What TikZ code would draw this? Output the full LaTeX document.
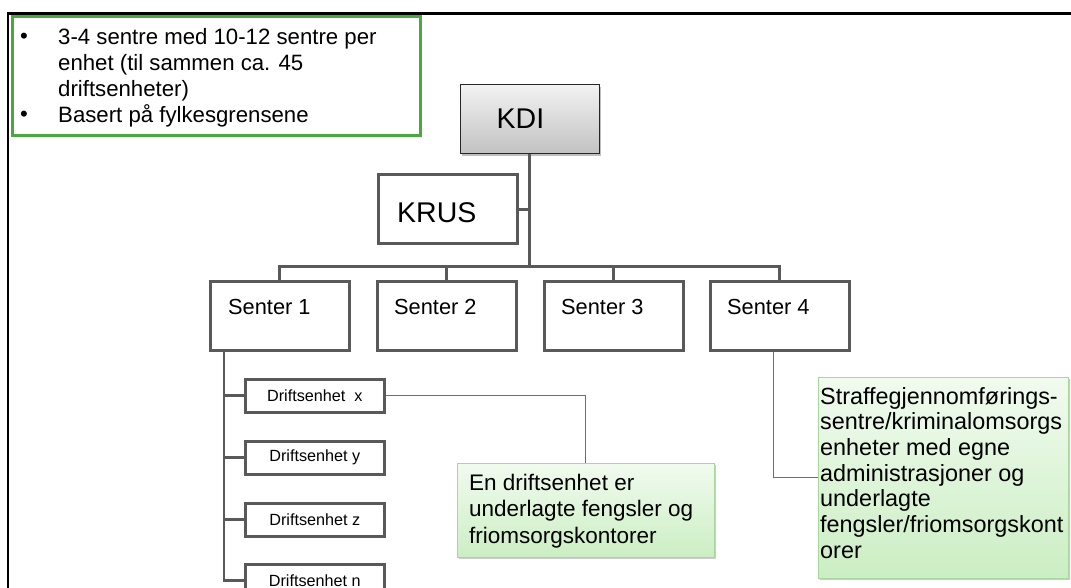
\documentclass[tikz,border=0pt]{standalone}
\usepackage{fontspec}
\setmainfont{Liberation Sans}
\usetikzlibrary{shadows,calc}
\definecolor{treegray}{HTML}{595959}
\definecolor{linkgray}{HTML}{6E6E6E}
\definecolor{framegreen}{HTML}{4BA83E}
\definecolor{notetop}{HTML}{F1FBEF}
\definecolor{notebot}{HTML}{CBEEC3}
\definecolor{noteedge}{HTML}{A5D89A}
\newcommand\fsinfo{\fontsize{22.2}{25}\selectfont}
\newcommand\fsbig{\fontsize{28.5}{32}\selectfont}
\newcommand\fssenter{\fontsize{21.8}{25}\selectfont}
\newcommand\fsdrift{\fontsize{16.2}{18}\selectfont}
\newcommand\fsnote{\fontsize{22.5}{26}\selectfont}
\newcommand\fsnotebig{\fontsize{23.4}{26}\selectfont}
\begin{document}
\begin{tikzpicture}[x=1pt,y=-1pt,
  box/.style={draw=treegray,line width=2.6pt,fill=white,minimum width=139pt,minimum height=69pt,inner sep=0pt,anchor=north west},
  dbox/.style={draw=treegray,line width=2.6pt,fill=white,minimum width=139pt,minimum height=33pt,inner sep=0pt,anchor=north west,font=\fsdrift},
  topbox/.style={draw=black!85,line width=1.5pt,minimum width=139pt,minimum height=69pt,inner sep=0pt,anchor=north west,
    top color=black!5,bottom color=black!24,
    drop shadow={shadow xshift=2pt,shadow yshift=-2pt,opacity=0.25,fill=black}},
  note/.style={draw=noteedge,line width=0.8pt,inner sep=0pt,anchor=north west,
    top color=notetop,bottom color=notebot,
    drop shadow={shadow xshift=1.5pt,shadow yshift=-2pt,opacity=0.2,fill=black}},
  tree/.style={draw=treegray,line width=2.8pt},
  link/.style={draw=linkgray,line width=1pt},
  lbl/.style={inner sep=0pt,anchor=base west},
]
\useasboundingbox (0,0) rectangle (1071,588);
\fill[white] (0,0) rectangle (1071,588);

% outer frame
\coordinate (fbl) at (8,588);
\coordinate (ftl) at (8,13.5);
\coordinate (ftr) at (1071,13.5);
\draw[line width=2.2pt,black] (fbl) -- (ftl) -- (ftr);

% info box
\node[draw=framegreen,line width=3pt,fill=white,minimum width=408pt,minimum height=119pt,inner sep=0pt,anchor=north west] (info) at (10.5,15.5) {};
\node[lbl,font=\fsinfo] (b1) at (20,44) {•};
\node[lbl,font=\fsinfo] (i1) at (58,45) {3-4 sentre med 10-12 sentre per};
\node[lbl,font=\fsinfo] (i2) at (58,70.7) {enhet (til sammen ca. 45};
\node[lbl,font=\fsinfo] (i3) at (58,96.5) {driftsenheter)};
\node[lbl,font=\fsinfo] (b2) at (20,121.5) {•};
\node[lbl,font=\fsinfo] (i4) at (58,122.5) {Basert på fylkesgrensene};

% KDI and KRUS
\node[topbox] (kdi) at (459.5,84) {};
\node[lbl,font=\fsbig] (kdit) at ($(kdi.north west)+(37,45)$) {KDI};
\node[box] (krus) at (377,173.5) {};
\node[lbl,font=\fsbig] (krust) at ($(krus.north west)+(20,49.5)$) {KRUS};

% centres
\node[box] (s1) at (209,280) {};
\node[box] (s2) at (376,280) {};
\node[box] (s3) at (543,280) {};
\node[box] (s4) at (709,280) {};
\node[lbl,font=\fssenter] (s1t) at ($(s1.north west)+(19,34)$) {Senter 1};
\node[lbl,font=\fssenter] (s2t) at ($(s2.north west)+(18,34)$) {Senter 2};
\node[lbl,font=\fssenter] (s3t) at ($(s3.north west)+(18,34)$) {Senter 3};
\node[lbl,font=\fssenter] (s4t) at ($(s4.north west)+(18,34)$) {Senter 4};

% tree connectors
\coordinate (bar) at ($(kdi.south)+(0,112)$);
\draw[tree] (kdi.south) -- (bar);
\draw[tree] (krus.east) -- (krus.east -| kdi.south);
\draw[tree] (s1.north) |- (bar) -| (s4.north);
\draw[tree] (s2.north) -- (s2.north |- bar);
\draw[tree] (s3.north) -- (s3.north |- bar);

% operating units
\node[dbox] (dx) at (244,378) {Driftsenhet\ \ x};
\node[dbox] (dy) at (244,440) {Driftsenhet y};
\node[dbox] (dz) at (244,502) {Driftsenhet z};
\node[dbox] (dn) at (244,563) {Driftsenhet n};
\coordinate (trunk) at ($(s1.south west)+(15,0)$);
\draw[tree] (trunk) |- (dn.west);
\draw[tree] (trunk |- dx.west) -- (dx.west);
\draw[tree] (trunk |- dy.west) -- (dy.west);
\draw[tree] (trunk |- dz.west) -- (dz.west);

% notes
\node[note,minimum width=257pt,minimum height=94pt] (g1) at (457,463) {};
\node[lbl,font=\fsnote] (g1a) at (469,490) {En driftsenhet er};
\node[lbl,font=\fsnote] (g1b) at (469,516.5) {underlagte fengsler og};
\node[lbl,font=\fsnote] (g1c) at (469,543) {friomsorgskontorer};

\node[note,minimum width=250pt,minimum height=201pt] (g2) at (818,377) {};
\node[lbl,font=\fsnotebig] (g2a) at (820,404) {Straffegjennomførings-};
\node[lbl,font=\fsnotebig] (g2b) at (820,429.7) {sentre/kriminalomsorgs};
\node[lbl,font=\fsnotebig] (g2c) at (820,455.4) {enheter med egne};
\node[lbl,font=\fsnotebig] (g2d) at (820,481.1) {administrasjoner og};
\node[lbl,font=\fsnotebig] (g2e) at (820,506.8) {underlagte};
\node[lbl,font=\fsnotebig] (g2f) at (820,532.5) {fengsler/friomsorgskont};
\node[lbl,font=\fsnotebig] (g2g) at (820,558.2) {orer};

% callout connectors
\draw[link] (dx.east) -| (g1.north);
\coordinate (s4b) at ($(s4.south)+(-6.5,0)$);
\draw[link] (s4b) |- (g2.west);
\end{tikzpicture}
\end{document}
